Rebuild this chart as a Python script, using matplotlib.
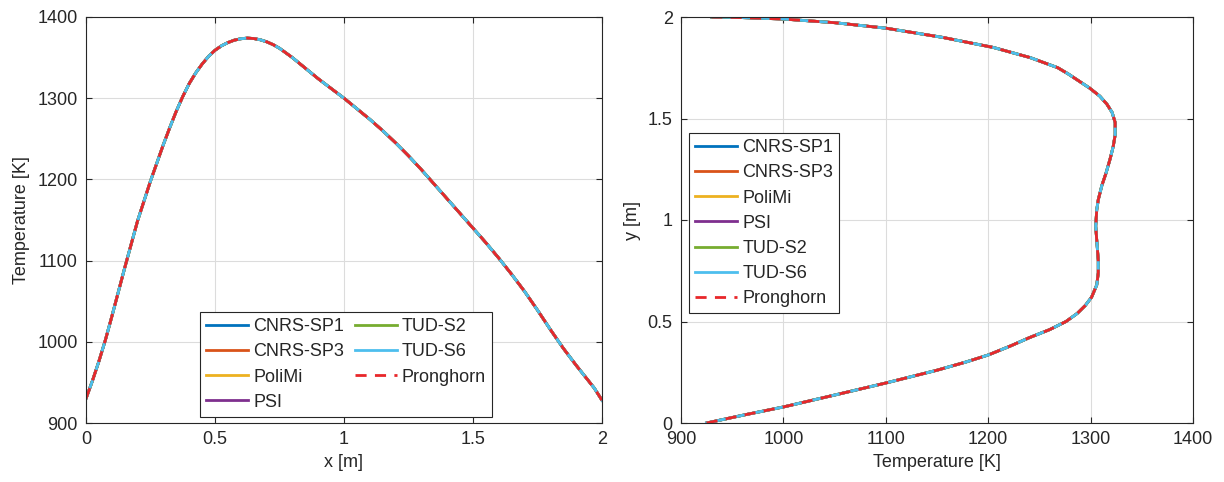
import numpy as np
import matplotlib.pyplot as plt

plt.rcParams['font.family'] = ['Liberation Sans', 'DejaVu Sans']

# Codes (MATLAB-like default colours) + Pronghorn reference
codes = ['CNRS-SP1', 'CNRS-SP3', 'PoliMi', 'PSI', 'TUD-S2', 'TUD-S6']
colors = ['#0072BD', '#D95319', '#EDB120', '#7E2F8E', '#77AC30', '#4DBEEE']

# Left: temperature along horizontal centreline
x_h = [0, 0.025, 0.05, 0.075, 0.1, 0.15, 0.2, 0.25, 0.3, 0.325, 0.35, 0.375,
       0.4, 0.425, 0.45, 0.475, 0.5, 0.525, 0.55, 0.575, 0.6, 0.625, 0.65,
       0.675, 0.7, 0.725, 0.75, 0.8, 0.85, 0.9, 0.95, 1.0, 1.05, 1.1, 1.15,
       1.2, 1.25, 1.3, 1.35, 1.4, 1.45, 1.5, 1.55, 1.6, 1.65, 1.7, 1.75, 1.8,
       1.85, 1.9, 1.93, 1.95, 1.97, 1.99, 2.0]
T_h = [930, 952, 976, 1002, 1031, 1091, 1149, 1198, 1243, 1264, 1284, 1302,
       1318, 1331, 1342, 1351.5, 1359, 1364.5, 1368.5, 1371.5, 1373.2, 1374,
       1373.5, 1372, 1369.5, 1366, 1361.5, 1350, 1337, 1324, 1312, 1300, 1287,
       1274, 1260, 1245, 1229, 1212, 1194, 1176, 1158, 1140, 1122, 1103, 1083,
       1062, 1039, 1015, 992, 971, 959, 951, 943, 933, 928]

# Right: temperature along vertical centreline
y_v = [0, 0.04, 0.079, 0.14, 0.197, 0.26, 0.3, 0.335, 0.38, 0.42, 0.46, 0.5,
       0.54, 0.58, 0.62, 0.68, 0.74, 0.8, 0.9, 0.97, 1.05, 1.1, 1.17, 1.23,
       1.3, 1.36, 1.42, 1.48, 1.53, 1.57, 1.61, 1.65, 1.68, 1.72, 1.75, 1.8,
       1.85, 1.9, 1.945, 1.972, 1.99, 1.997, 2.0]
T_v = [925, 962, 1000, 1052, 1100, 1150, 1178, 1200, 1222, 1240, 1260, 1276,
       1287, 1295, 1301, 1306, 1307.5, 1307.5, 1306, 1305, 1306, 1307.5, 1311, 1315,
       1319, 1322, 1324, 1324, 1321, 1316, 1309, 1299, 1290, 1278, 1268, 1241,
       1205, 1155, 1100, 1050, 1000, 960, 930]

fig = plt.figure(figsize=(12.24, 4.82), dpi=100)
ax1 = fig.add_axes([86/1224, 59/482, 516/1224, 406/482])
ax2 = fig.add_axes([681/1224, 59/482, 512/1224, 406/482])

txt = '#262626'
for ax in (ax1, ax2):
    for s in ax.spines.values():
        s.set_color(txt)
        s.set_linewidth(0.8)
    ax.tick_params(direction='in', top=True, right=True, labelsize=13,
                   colors=txt, length=4, pad=6)
    ax.grid(True, color='#dcdcdc', linewidth=0.8)
    ax.set_axisbelow(True)

for name, c in zip(codes, colors):
    ax1.plot(x_h, T_h, color=c, lw=2, label=name)
    ax2.plot(T_v, y_v, color=c, lw=2, label=name)
ax1.plot(x_h, T_h, color='#E8272A', lw=2, ls=(0, (4, 3)), label='Pronghorn')
ax2.plot(T_v, y_v, color='#E8272A', lw=2, ls=(0, (4, 3)), label='Pronghorn')

ax1.set_xlim(0, 2)
ax1.set_ylim(900, 1400)
ax1.set_xticks([0, 0.5, 1, 1.5, 2])
ax1.set_xticklabels(['0', '0.5', '1', '1.5', '2'])
ax1.set_xlabel('x [m]', fontsize=13, color=txt, labelpad=4)
ax1.set_ylabel('Temperature [K]', fontsize=13, color=txt, labelpad=5)

ax2.set_xlim(900, 1400)
ax2.set_ylim(0, 2)
ax2.set_yticks([0, 0.5, 1, 1.5, 2])
ax2.set_yticklabels(['0', '0.5', '1', '1.5', '2'])
ax2.set_xlabel('Temperature [K]', fontsize=13, color=txt, labelpad=4)
ax2.set_ylabel('y [m]', fontsize=13, color=txt, labelpad=5)

for ax, ncol, anchor in ((ax1, 2, (200/1224, 1 - 312/482)),
                         (ax2, 1, (689/1224, 1 - 133/482))):
    leg = ax.legend(ncol=ncol, loc='upper left', bbox_to_anchor=anchor,
                    bbox_transform=fig.transFigure, fontsize=13,
                    fancybox=False, framealpha=1, edgecolor=txt,
                    handlelength=2.3, handletextpad=0.3, columnspacing=0.6,
                    labelspacing=0.45, borderpad=0.35, borderaxespad=0)
    leg.get_frame().set_linewidth(0.8)
    for t in leg.get_texts():
        t.set_color(txt)

fig.savefig('out.png', dpi=100)
